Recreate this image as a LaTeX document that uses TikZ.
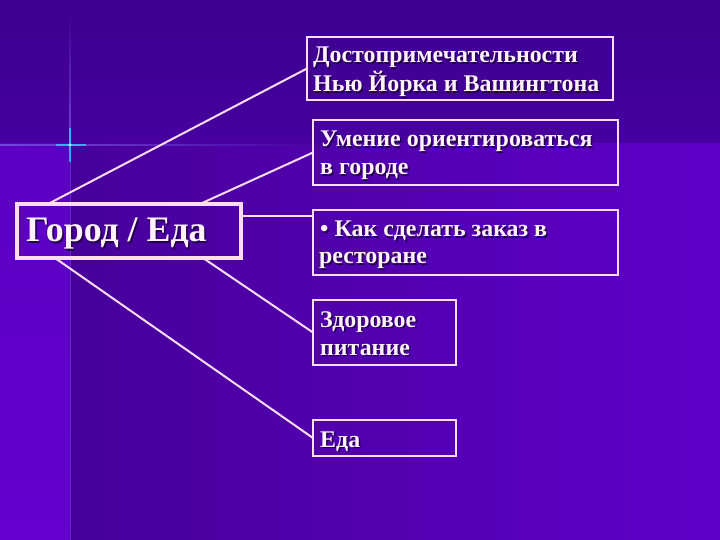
\documentclass[tikz,border=0pt]{standalone}
\usepackage{fontspec}
\setmainfont{Liberation Serif}
\usetikzlibrary{calc}
\definecolor{bandtop}{HTML}{3C008E}
\definecolor{bandbot}{HTML}{47009F}
\definecolor{mainleft}{HTML}{47009A}
\definecolor{mainright}{HTML}{5F00C9}
\definecolor{striptop}{HTML}{5800BD}
\definecolor{stripbot}{HTML}{6400D0}
\definecolor{linec}{HTML}{FFDDF0}
\definecolor{textc}{HTML}{FFF2F8}
\definecolor{shadowc}{HTML}{20004A}
\definecolor{glowc}{HTML}{30C8FF}
\definecolor{faintc}{HTML}{7248D8}
\tikzset{
  box/.style={draw=linec, line width=1.3bp, inner sep=0pt, outer sep=0pt, anchor=north west},
  mainbox/.style={draw=linec, line width=3.5bp, inner sep=0pt, outer sep=0pt, anchor=north west},
  conn/.style={draw=linec, line width=2bp},
  txt/.style={anchor=base west, inner sep=0pt, text=textc},
  txtshadow/.style={anchor=base west, inner sep=0pt, text=shadowc},
}
\newcommand\shtxt[5]{%
  \node[txtshadow, font=\bfseries\fontsize{#4}{#4}\selectfont] (#1s) at ($(#2,#3)+(1.5,1.5)$) {#5};
  \node[txt, font=\bfseries\fontsize{#4}{#4}\selectfont] (#1) at (#2,#3) {#5};
}
\begin{document}
\begin{tikzpicture}[x=1bp,y=-1bp]
\useasboundingbox (0,0) rectangle (720,540);
% background
\shade[top color=striptop, bottom color=stripbot] (0,0) rectangle (720,540);
\shade[left color=mainleft, right color=mainright] (70,143) rectangle (720,540);
\shade[top color=bandtop, bottom color=bandbot] (0,0) rectangle (720,143);
% faint guide lines and glow
\shade[top color=bandtop, bottom color=faintc] (69.5,12) rectangle (70.5,143);
\fill[faintc, opacity=0.6] (69.5,143) rectangle (70.5,540);
\shade[left color=faintc, right color=bandbot] (0,144.3) rectangle (330,145.7);
\draw[glowc, line width=1.2bp, opacity=0.8] (70,128) -- (70,162);
\draw[glowc, line width=1.2bp, opacity=0.8] (56,145) -- (86,145);
\fill[white!60!glowc] (70,145) circle (1.6);
% boxes
\node[mainbox, minimum width=224bp, minimum height=54bp] (main) at (17,204) {};
\node[box, minimum width=306bp, minimum height=63bp] (b1) at (307,37) {};
\node[box, minimum width=305bp, minimum height=65bp] (b2) at (313,120) {};
\node[box, minimum width=305bp, minimum height=65bp] (b3) at (313,210) {};
\node[box, minimum width=143bp, minimum height=65bp] (b4) at (313,300) {};
\node[box, minimum width=143bp, minimum height=36bp] (b5) at (313,420) {};
% texts
\shtxt{tmain}{26}{242}{36}{Город / Еда}
\shtxt{t1a}{313}{63}{24}{Достопримечательности}
\shtxt{t1b}{313}{92}{24}{Нью Йорка и Вашингтона}
\shtxt{t2a}{320}{147}{24}{Умение ориентироваться}
\shtxt{t2b}{320}{175}{24}{в городе}
\shtxt{t3a}{320}{237}{24}{• Как сделать заказ в}
\shtxt{t3b}{319}{264}{24}{ресторане}
\shtxt{t4a}{320}{327}{24}{Здоровое}
\shtxt{t4b}{320}{355}{24}{питание}
\shtxt{t5a}{320}{447}{24}{Еда}
% connectors
\coordinate (s1) at ([xshift=31bp]main.north west);
\coordinate (s2) at ([xshift=183bp]main.north west);
\coordinate (s3) at ([yshift=15bp]main.east);
\coordinate (s4) at ([xshift=186bp]main.south west);
\coordinate (s5) at ([xshift=38bp]main.south west);
\draw[conn] (s1) -- (b1.west);
\draw[conn] (s2) -- (b2.west);
\draw[conn] (s3) -- (s3 -| b3.west);
\draw[conn] (s4) -- (b4.west);
\draw[conn] (s5) -- (b5.west);
\end{tikzpicture}
\end{document}
